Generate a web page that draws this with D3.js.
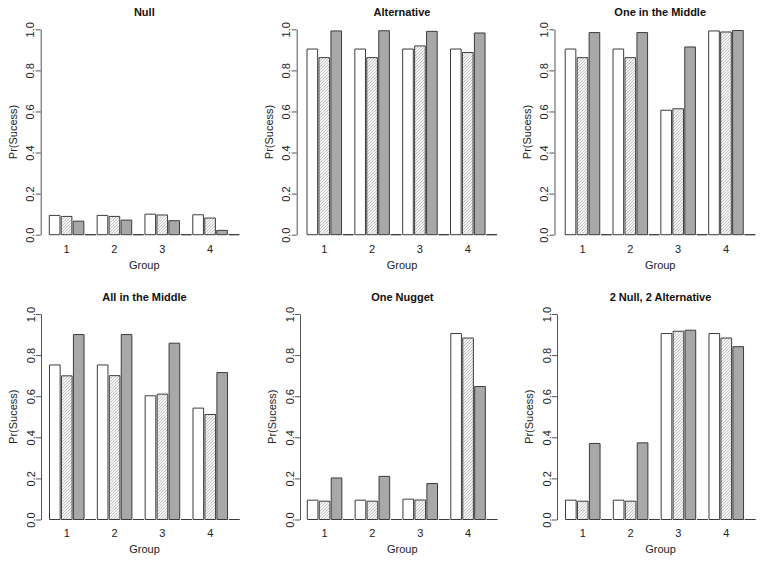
<!DOCTYPE html>
<html>
<head>
<meta charset="utf-8">
<script src="https://cdn.jsdelivr.net/npm/d3@7"></script>
<style>
  html, body { margin: 0; padding: 0; background: #fff; }
  svg { display: block; font-family: "Liberation Sans", Arial, Helvetica, sans-serif; }
</style>
</head>
<body>
<svg id="chart" width="762" height="562"></svg>
<script>
// ---- data ----
const titles = ["Null", "Alternative", "One in the Middle", "All in the Middle", "One Nugget", "2 Null, 2 Alternative"];
const groups = ["1", "2", "3", "4"];
const yTicks = [0, 0.2, 0.4, 0.6, 0.8, 1.0];
const yLabel = "Pr(Sucess)";
const xLabel = "Group";
// white bars
const seriesWhite = [
  [0.094, 0.094, 0.100, 0.097],
  [0.904, 0.904, 0.904, 0.904],
  [0.904, 0.904, 0.606, 0.992],
  [0.752, 0.752, 0.602, 0.542],
  [0.094, 0.094, 0.099, 0.905],
  [0.094, 0.094, 0.905, 0.905]
];
// hatched bars
const seriesHatch = [
  [0.089, 0.089, 0.096, 0.081],
  [0.862, 0.862, 0.919, 0.887],
  [0.862, 0.862, 0.613, 0.987],
  [0.699, 0.700, 0.610, 0.511],
  [0.089, 0.089, 0.095, 0.883],
  [0.089, 0.089, 0.916, 0.883]
];
// gray bars
const seriesGray = [
  [0.066, 0.071, 0.068, 0.021],
  [0.992, 0.993, 0.990, 0.982],
  [0.984, 0.984, 0.914, 0.994],
  [0.900, 0.900, 0.858, 0.715],
  [0.202, 0.210, 0.175, 0.647],
  [0.370, 0.373, 0.921, 0.841]
];
// empty fourth bar in each group
const seriesEmpty = [0, 0, 0, 0];

// ---- layout ----
const panelLayout = [
  { axisX: 40.7, barX0: 49.3, yBase: 234.7, yTop: 29.3, titleY: 16, tickY: 252.5, labY: 268.5 },
  { axisX: 296.7, barX0: 307.0, yBase: 234.7, yTop: 29.3, titleY: 16, tickY: 252.5, labY: 268.5 },
  { axisX: 554.5, barX0: 565.2, yBase: 234.7, yTop: 29.3, titleY: 16, tickY: 252.5, labY: 268.5 },
  { axisX: 41.0, barX0: 49.5, yBase: 519.5, yTop: 314.0, titleY: 301, tickY: 536.5, labY: 552.5 },
  { axisX: 300.0, barX0: 307.3, yBase: 519.5, yTop: 314.0, titleY: 301, tickY: 536.5, labY: 552.5 },
  { axisX: 557.0, barX0: 565.5, yBase: 519.5, yTop: 314.0, titleY: 301, tickY: 536.5, labY: 552.5 }
];
const barSpan = 190;
const fills = ["#ffffff", "url(#hatch)", "#a8a8a8", "#ffffff"];
const stroke = "#3c3c3c";
const axisColor = "#555";
const fontSize = 11;

const svg = d3.select("#chart");
const defs = svg.append("defs");
const pat = defs.append("pattern")
  .attr("id", "hatch").attr("patternUnits", "userSpaceOnUse")
  .attr("width", 3).attr("height", 3);
pat.append("rect").attr("width", 3).attr("height", 3).attr("fill", "#f4f4f4");
pat.append("path").attr("d", "M-1,1 l2,-2 M0,3 l3,-3 M2,4 l2,-2")
  .attr("stroke", "#b0b0b0").attr("stroke-width", 0.7);

titles.forEach((title, p) => {
  const L = panelLayout[p];
  const values = [seriesWhite[p], seriesHatch[p], seriesGray[p], seriesEmpty];
  const slots = d3.range(groups.length * values.length);
  const x = d3.scaleBand().domain(slots).range([L.barX0, L.barX0 + barSpan]).paddingInner(0.11).paddingOuter(0);
  const y = d3.scaleLinear().domain([0, 1]).range([L.yBase, L.yTop]);
  const g = svg.append("g");

  const bars = [];
  groups.forEach((grp, gi) => {
    values.forEach((ser, si) => {
      bars.push({ slot: gi * values.length + si, v: ser[gi], s: si });
    });
  });
  g.selectAll("path.bar").data(bars).join("path")
    .attr("class", "bar")
    .attr("d", d => {
      const x0 = x(d.slot), w = x.bandwidth();
      return `M${x0},${y(0)}V${y(d.v)}H${x0 + w}V${y(0)}Z`;
    })
    .attr("fill", d => fills[d.s])
    .attr("stroke", stroke).attr("stroke-width", 1);

  // y axis
  const ax = g.append("g").attr("transform", `translate(${L.axisX},0)`)
    .call(d3.axisLeft(y).tickValues(yTicks).tickSize(5).tickSizeOuter(0).tickFormat(d3.format(".1f")));
  ax.select(".domain").attr("stroke", axisColor);
  ax.selectAll(".tick line").attr("stroke", axisColor);
  ax.selectAll(".tick text")
    .attr("x", 0).attr("dy", 0).attr("text-anchor", "middle")
    .attr("transform", "translate(-6.5,0) rotate(-90)")
    .attr("font-size", fontSize).attr("fill", "#222").attr("font-family", null);

  // group labels
  const centerOf = gi => (x(gi * values.length) + x(gi * values.length + 2) + x.bandwidth()) / 2;
  g.selectAll("text.grp").data(groups).join("text")
    .attr("class", "grp")
    .attr("x", (d, i) => centerOf(i)).attr("y", L.tickY)
    .attr("text-anchor", "middle").attr("font-size", fontSize).attr("fill", "#222")
    .text(d => d);

  const midX = L.barX0 + barSpan / 2;
  g.append("text").attr("x", midX).attr("y", L.titleY)
    .attr("text-anchor", "middle").attr("font-size", fontSize).attr("font-weight", "bold").attr("fill", "#111")
    .text(title);
  g.append("text").attr("x", midX).attr("y", L.labY)
    .attr("text-anchor", "middle").attr("font-size", fontSize).attr("fill", "#222")
    .text(xLabel);
  g.append("text")
    .attr("transform", `translate(${L.axisX - 24},${(L.yBase + L.yTop) / 2}) rotate(-90)`)
    .attr("text-anchor", "middle").attr("font-size", fontSize).attr("fill", "#222")
    .text(yLabel);
});
</script>
</body>
</html>
